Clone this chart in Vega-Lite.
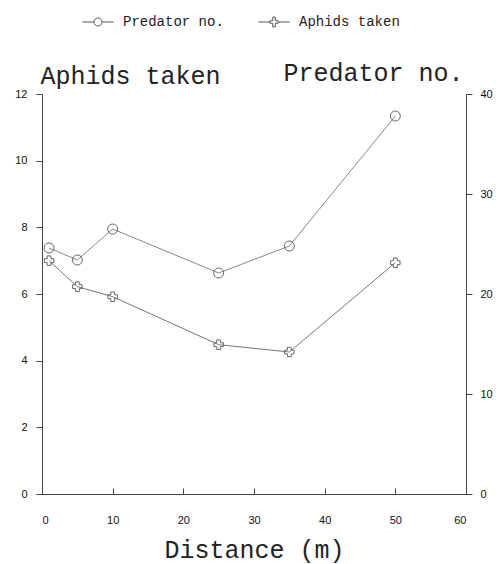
{
  "$schema": "https://vega.github.io/schema/vega-lite/v6.json",
  "width": 424,
  "height": 400,
  "autosize": "none",
  "padding": {"left": 42, "top": 94, "right": 35, "bottom": 70},
  "background": "white",
  "config": {
    "view": {"stroke": null},
    "axis": {
      "grid": false,
      "domainColor": "#444",
      "tickColor": "#444",
      "labelFont": "Liberation Sans",
      "labelFontSize": 11,
      "labelColor": "#111",
      "titleFont": "Liberation Mono",
      "titleFontWeight": "normal",
      "titleFontSize": 25,
      "titleColor": "#222"
    }
  },
  "data": {
    "values": [
      {"Distance": 1, "Series": "Aphids taken", "Value": 7.0},
      {"Distance": 5, "Series": "Aphids taken", "Value": 6.22},
      {"Distance": 10, "Series": "Aphids taken", "Value": 5.92},
      {"Distance": 25, "Series": "Aphids taken", "Value": 4.48},
      {"Distance": 35, "Series": "Aphids taken", "Value": 4.26},
      {"Distance": 50, "Series": "Aphids taken", "Value": 6.94},
      {"Distance": 1, "Series": "Predator no.", "Value": 24.6},
      {"Distance": 5, "Series": "Predator no.", "Value": 23.4},
      {"Distance": 10, "Series": "Predator no.", "Value": 26.5},
      {"Distance": 25, "Series": "Predator no.", "Value": 22.1},
      {"Distance": 35, "Series": "Predator no.", "Value": 24.8},
      {"Distance": 50, "Series": "Predator no.", "Value": 37.8}
    ]
  },
  "layer": [
    {
      "transform": [{"filter": "datum.Series === 'Aphids taken'"}],
      "encoding": {
        "x": {
          "field": "Distance", "type": "quantitative",
          "scale": {"domain": [0, 60], "nice": false, "zero": true},
          "axis": {"title": "Distance (m)", "values": [0, 10, 20, 30, 40, 50, 60], "tickSize": -6, "labelPadding": 26, "titlePadding": 12}
        },
        "y": {
          "field": "Value", "type": "quantitative",
          "scale": {"domain": [0, 12], "nice": false},
          "axis": {"orient": "left", "title": "Aphids taken", "values": [0, 2, 4, 6, 8, 10, 12], "tickSize": 6, "labelPadding": 9,
                   "titleAngle": 0, "titleX": -2, "titleY": -11, "titleAlign": "left", "titleBaseline": "alphabetic"}
        }
      },
      "layer": [
        {"mark": {"type": "line", "color": "#777", "strokeWidth": 1}},
        {"mark": {"type": "point", "shape": "cross", "filled": false, "color": "#666", "size": 90, "strokeWidth": 1, "opacity": 1}},
        {
          "transform": [{"filter": "datum.Distance < 0"}],
          "mark": {"type": "point", "filled": false, "color": "#555", "size": 961, "strokeWidth": 1, "opacity": 1},
          "encoding": {
            "shape": {
              "field": "Series", "type": "nominal",
              "scale": {
                "domain": ["Predator no.", "Aphids taken"],
                "range": [
                  "M-1,0H-0.26M0.26,0H1M-0.26,0A0.26,0.26 0 1,1 0.26,0A0.26,0.26 0 1,1 -0.26,0",
                  "M-1,0H-0.26M0.26,0H1M-0.08,-0.32H0.08V-0.08H0.26V0.08H0.08V0.32H-0.08V0.08H-0.26V-0.08H-0.08Z"
                ]
              },
              "legend": {
                "orient": "none", "legendX": 40, "legendY": -88, "direction": "horizontal", "title": null,
                "labelFont": "Liberation Mono", "labelFontSize": 14, "labelColor": "#222",
                "symbolSize": 961, "symbolStrokeColor": "#555", "symbolFillColor": "transparent", "symbolStrokeWidth": 1,
                "columnPadding": 32, "labelOffset": 9
              }
            }
          }
        }
      ]
    },
    {
      "transform": [{"filter": "datum.Series === 'Predator no.'"}],
      "encoding": {
        "x": {
          "field": "Distance", "type": "quantitative",
          "scale": {"domain": [0, 60], "nice": false, "zero": true},
          "axis": {"title": "Distance (m)", "values": [0, 10, 20, 30, 40, 50, 60], "tickSize": -6, "labelPadding": 26, "titlePadding": 12}
        },
        "y": {
          "field": "Value", "type": "quantitative",
          "scale": {"domain": [0, 40], "nice": false},
          "axis": {"orient": "right", "title": "Predator no.", "values": [0, 10, 20, 30, 40], "tickSize": 6, "labelPadding": 8,
                   "titleAngle": 0, "titleX": -3, "titleY": -14, "titleAlign": "right", "titleBaseline": "alphabetic"}
        }
      },
      "layer": [
        {"mark": {"type": "line", "color": "#888", "strokeWidth": 1}},
        {"mark": {"type": "point", "shape": "circle", "filled": false, "color": "#666", "size": 100, "strokeWidth": 1, "opacity": 1}}
      ]
    }
  ],
  "resolve": {"scale": {"y": "independent"}}
}
